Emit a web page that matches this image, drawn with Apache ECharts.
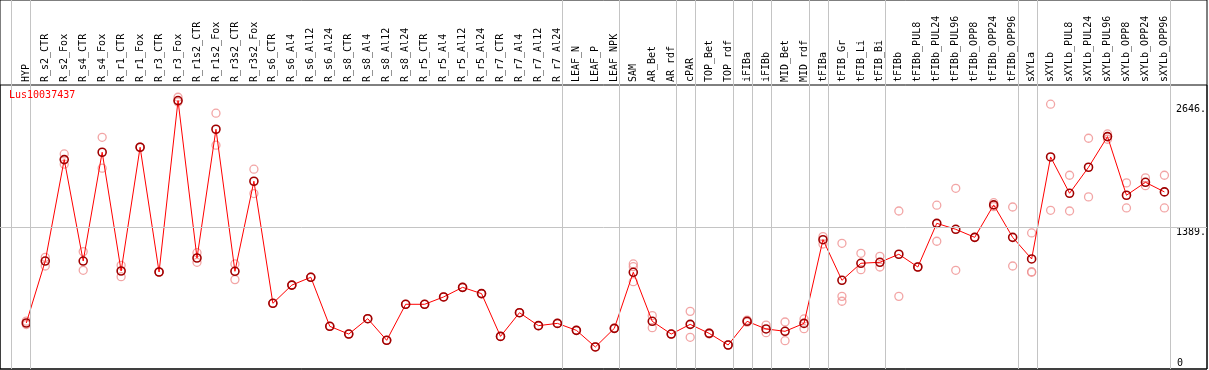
<!DOCTYPE html>
<html><head><meta charset="utf-8">
<script src="https://cdn.jsdelivr.net/npm/echarts@6/dist/echarts.min.js"></script>
<style>html,body{margin:0;padding:0;background:#fff}#c{width:1209px;height:370px}</style>
</head><body><div id="c"></div>
<script>
const geneName = 'Lus10037437';
const categories = ['HYP','R_s2_CTR','R_s2_Fox','R_s4_CTR','R_s4_Fox','R_r1_CTR','R_r1_Fox','R_r3_CTR','R_r3_Fox','R_r1s2_CTR','R_r1s2_Fox','R_r3s2_CTR','R_r3s2_Fox','R_s6_CTR','R_s6_Al4','R_s6_Al12','R_s6_Al24','R_s8_CTR','R_s8_Al4','R_s8_Al12','R_s8_Al24','R_r5_CTR','R_r5_Al4','R_r5_Al12','R_r5_Al24','R_r7_CTR','R_r7_Al4','R_r7_Al12','R_r7_Al24','LEAF_N','LEAF_P','LEAF_NPK','SAM','AR_Bet','AR_rdf','cPAR','TOP_Bet','TOP_rdf','iFIBa','iFIBb','MID_Bet','MID_rdf','tFIBa','tFIB_Gr','tFIB_Li','tFIB_Bi','tFIBb','tFIBb_PUL8','tFIBb_PUL24','tFIBb_PUL96','tFIBb_OPP8','tFIBb_OPP24','tFIBb_OPP96','sXYLa','sXYLb','sXYLb_PUL8','sXYLb_PUL24','sXYLb_PUL96','sXYLb_OPP8','sXYLb_OPP24','sXYLb_OPP96'];
const meanValues = [411,1044,2080,1044,2155,942,2206,932,2683,1075,2390,939,1859,612,798,878,377,298,455,234,602,602,677,775,711,274,516,384,407,336,166,356,929,428,298,397,305,186,428,350,326,407,1262,847,1021,1031,1113,983,1429,1368,1286,1617,1286,1065,2107,1736,2002,2315,1716,1848,1750];
const rep1 = [430,1082,2138,1140,2308,1000,2206,932,2717,1129,2554,1014,1982,612,798,878,377,298,455,234,602,602,677,775,711,274,516,384,407,336,166,356,1014,486,298,530,310,186,440,390,421,452,1293,1225,1123,1092,1555,983,1614,1787,1286,1640,1596,1331,2646,1920,2298,2342,1842,1893,1920];
const rep2 = [395,993,2033,949,1992,884,2206,932,2670,1031,2227,854,1733,612,798,878,377,298,455,234,602,602,677,775,711,274,516,384,407,336,166,356,986,363,298,265,300,186,420,312,230,353,1218,683,956,983,683,983,1246,949,1286,1600,993,935,1562,1555,1699,2288,1586,1814,1586];
const rep3 = [null,null,null,null,null,null,null,null,null,null,null,null,null,null,null,null,null,null,null,null,null,null,null,null,null,null,null,null,null,null,null,null,833,null,null,null,null,null,null,null,null,null,null,633,null,null,null,null,null,null,null,null,null,929,null,null,null,null,null,null,null];
const groupBreaksAfter = [-1,0,28,31,34,35,37,38,39,41,42,45,52,53,60];
const gridLineValue = 1389;
const yTickValues = [0, 1389, 2646];
const yTickLabels = ['0', '1389.', '2646.'];

// layout
const W = 1209, H = 370;
const step = 19, firstX = 26.3;
const outerLeft = 0, outerRight = 1207, frameTop = 0, plotTop = 85, plotBottom = 369;
const innerLeft = firstX - step / 2;
const innerRight = innerLeft + step * categories.length;
const yMin = -59, yMax = 2842;
const FONT = 'DejaVu Sans Mono';

const repData = [];
[rep1, rep2, rep3].forEach(r => r.forEach((v, i) => { if (v != null) repData.push([i, v]); }));

const yLabelFmt = v => { const k = yTickValues.indexOf(v); return k >= 0 ? yTickLabels[k] : ''; };

const chart = echarts.init(document.getElementById('c'), null, {renderer: 'canvas'});
chart.setOption({
  animation: false,
  backgroundColor: '#fff',
  title: {text: geneName, left: 9, top: 90, padding: 0,
    textStyle: {color: '#ff0000', fontSize: 10, fontWeight: 'normal', fontFamily: FONT}},
  grid: [
    {left: innerLeft, right: W - innerRight, top: plotTop, bottom: H - plotBottom, containLabel: false},
    {left: outerLeft, right: W - outerRight, top: frameTop, bottom: H - plotBottom, show: true,
     borderColor: '#000', borderWidth: 1, backgroundColor: 'transparent', containLabel: false},
    {left: outerLeft, right: W - outerRight, top: plotTop, bottom: H - plotBottom, show: true,
     borderColor: '#000', borderWidth: 1, backgroundColor: 'transparent', containLabel: false}
  ],
  xAxis: [
    {type: 'category', gridIndex: 0, position: 'top', data: categories, boundaryGap: true,
     axisLine: {show: false}, axisTick: {show: false}, splitLine: {show: false},
     axisLabel: {interval: 0, rotate: 90, margin: 3, fontFamily: FONT, fontSize: 10, color: '#000'}},
    {type: 'value', gridIndex: 1, show: false,
     min: (outerLeft - firstX) / step, max: (outerRight - firstX) / step},
    {type: 'value', gridIndex: 2, show: false, min: 0, max: 1}
  ],
  yAxis: [
    {type: 'value', gridIndex: 0, min: yMin, max: yMax, show: false},
    {type: 'value', gridIndex: 1, min: 0, max: 1, show: false},
    {type: 'value', gridIndex: 2, min: yMin, max: yMax, show: false},
    {type: 'value', gridIndex: 0, position: 'right', min: yMin, max: yMax,
     axisLine: {show: false}, axisTick: {show: false}, splitLine: {show: false},
     axisLabel: {customValues: [yTickValues[1], yTickValues[2]], formatter: yLabelFmt, verticalAlign: 'top',
       align: 'left', margin: 2, fontFamily: FONT, fontSize: 10, color: '#000'}},
    {type: 'value', gridIndex: 0, position: 'right', min: yMin, max: yMax,
     axisLine: {show: false}, axisTick: {show: false}, splitLine: {show: false},
     axisLabel: {customValues: [yTickValues[0]], formatter: yLabelFmt, verticalAlign: 'middle',
       align: 'left', margin: 3, fontFamily: FONT, fontSize: 10, color: '#000'}}
  ],
  series: [
    {type: 'line', xAxisIndex: 1, yAxisIndex: 1, data: [], z: 1, silent: true,
     markLine: {silent: true, symbol: 'none', label: {show: false}, animation: false,
       lineStyle: {color: '#c4c4c4', type: 'solid', width: 1},
       emphasis: {disabled: true},
       data: groupBreaksAfter.map(b => ({xAxis: b + 0.23}))}},
    {type: 'line', xAxisIndex: 2, yAxisIndex: 2, data: [], z: 1, silent: true,
     markLine: {silent: true, symbol: 'none', label: {show: false}, animation: false,
       lineStyle: {color: '#c4c4c4', type: 'solid', width: 1},
       emphasis: {disabled: true},
       data: [{yAxis: gridLineValue}]}},
    {type: 'scatter', xAxisIndex: 0, yAxisIndex: 0, data: repData, z: 2, symbol: 'circle', symbolSize: 8,
     itemStyle: {color: 'rgba(0,0,0,0)', borderColor: '#ef8f8f', borderWidth: 1.3}, emphasis: {disabled: true}},
    {type: 'line', xAxisIndex: 0, yAxisIndex: 0, data: meanValues, z: 3, symbol: 'circle', symbolSize: 8,
     lineStyle: {color: '#ff0000', width: 1},
     itemStyle: {color: 'rgba(0,0,0,0)', borderColor: '#a00000', borderWidth: 1.6}, emphasis: {disabled: true}}
  ]
});
</script></body></html>
